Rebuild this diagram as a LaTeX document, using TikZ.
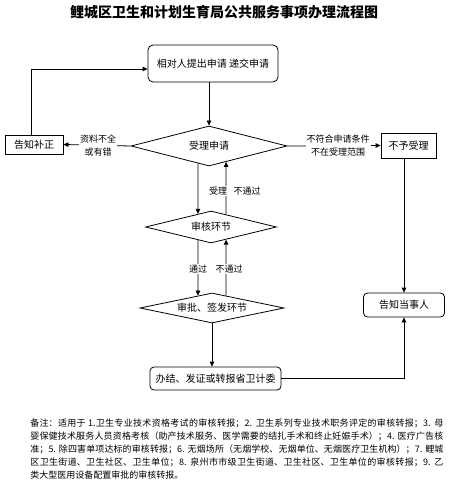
\documentclass[tikz,border=0pt]{standalone}
\usepackage{fontspec}
\setmainfont{Noto Sans CJK SC}
\XeTeXlinebreaklocale "zh"
\XeTeXlinebreakskip=0pt plus 1pt
\usetikzlibrary{shapes.geometric,arrows.meta,calc}
\begin{document}
\begin{tikzpicture}[x=1pt,y=-1pt,line width=0.8pt,
  arr/.style={-{Triangle[length=5pt,width=4.5pt]}},
  boxs/.style={draw,inner sep=0pt,font=\fontsize{10}{12}\selectfont},
  rbox/.style={boxs,rounded corners=5pt},
  dia/.style={draw,diamond,aspect=4,inner sep=0pt,font=\fontsize{10}{12}\selectfont},
  lbl/.style={fill=white,inner sep=1pt,align=center,font=\fontsize{9}{13}\selectfont}]
\useasboundingbox (0,0) rectangle (450,486);
\node[font=\fontsize{14}{16}\selectfont\bfseries] (title) at (224,12) {鲤城区卫生和计划生育局公共服务事项办理流程图};
\node[rbox,minimum width=130pt,minimum height=37pt] (top) at (213,63.5) {相对人提出申请 递交申请};
\node[dia,minimum width=156pt,minimum height=40pt] (d1) at (209,146) {受理申请};
\node[boxs,minimum width=58pt,minimum height=19pt] (bz) at (34,144.5) {告知补正};
\node[boxs,minimum width=55pt,minimum height=25pt] (nb) at (408.5,145.5) {不予受理};
\node[dia,minimum width=131pt,minimum height=32pt] (d2) at (211,227) {审核环节};
\node[dia,minimum width=144pt,minimum height=30pt] (d3) at (212,308) {审批、签发环节};
\node[rbox,rounded corners=4pt,minimum width=81pt,minimum height=24pt] (gz) at (404,305) {告知当事人};
\node[rbox,rounded corners=4pt,minimum width=131pt,minimum height=23pt] (bb) at (215.5,378.5) {办结、发证或转报省卫计委};
% connectors
\draw[arr] (top.south -| d1.north) -- (d1.north);
\draw[arr] (d1.west) -- (bz.east);
\draw[arr] ($(bz.north)+(-3,0)$) |- ($(top.west)+(0,5.5)$);
\draw[arr] (d1.east) -- (nb.west);
\draw[arr] (gz.north |- nb.south) -- (gz.north);
\draw[arr] ($(d1.south)!0.141!(d1.west)$) -- ($(d2.north)!0.198!(d2.west)$);
\draw[arr] ($(d2.north)!0.229!(d2.east)$) -- ($(d1.south)!0.218!(d1.east)$);
\draw[arr] ($(d2.south)!0.198!(d2.west)$) -- ($(d3.north)!0.194!(d3.west)$);
\draw[arr] ($(d3.north)!0.194!(d3.east)$) -- ($(d2.south)!0.229!(d2.east)$);
\draw[arr] (d3.south) -- (d3.south |- bb.north);
\draw[arr] (bb.east) -| (gz.south);
% labels
\node[lbl] (l1) at (98,146) {资料不全\\或有错};
\node[lbl] (l2) at (338,146) {不符合申请条件\\不在受理范围};
\node[lbl] (l3) at (218,191) {受理};
\node[lbl] (l4) at (247,191) {不通过};
\node[lbl] (l5) at (198,269) {通过};
\node[lbl] (l6) at (229,269) {不通过};
% note
\node[anchor=north west,text width=413pt,align=justify,inner sep=0pt,font=\fontsize{9}{13}\selectfont] (note) at (30,418) {备注：适用于 1.卫生专业技术资格考试的审核转报；2. 卫生系列专业技术职务评定的审核转报；3. 母\linebreak 婴保健技术服务人员资格考核（助产技术服务、医学需要的结扎手术和终止妊娠手术）；4. 医疗广告核\linebreak 准；5. 除四害单项达标的审核转报；6. 无烟场所（无烟学校、无烟单位、无烟医疗卫生机构）；7. 鲤城\linebreak 区卫生街道、卫生社区、卫生单位；8. 泉州市市级卫生街道、卫生社区、卫生单位的审核转报；9. 乙\linebreak 类大型医用设备配置审批的审核转报。};
\end{tikzpicture}
\end{document}
